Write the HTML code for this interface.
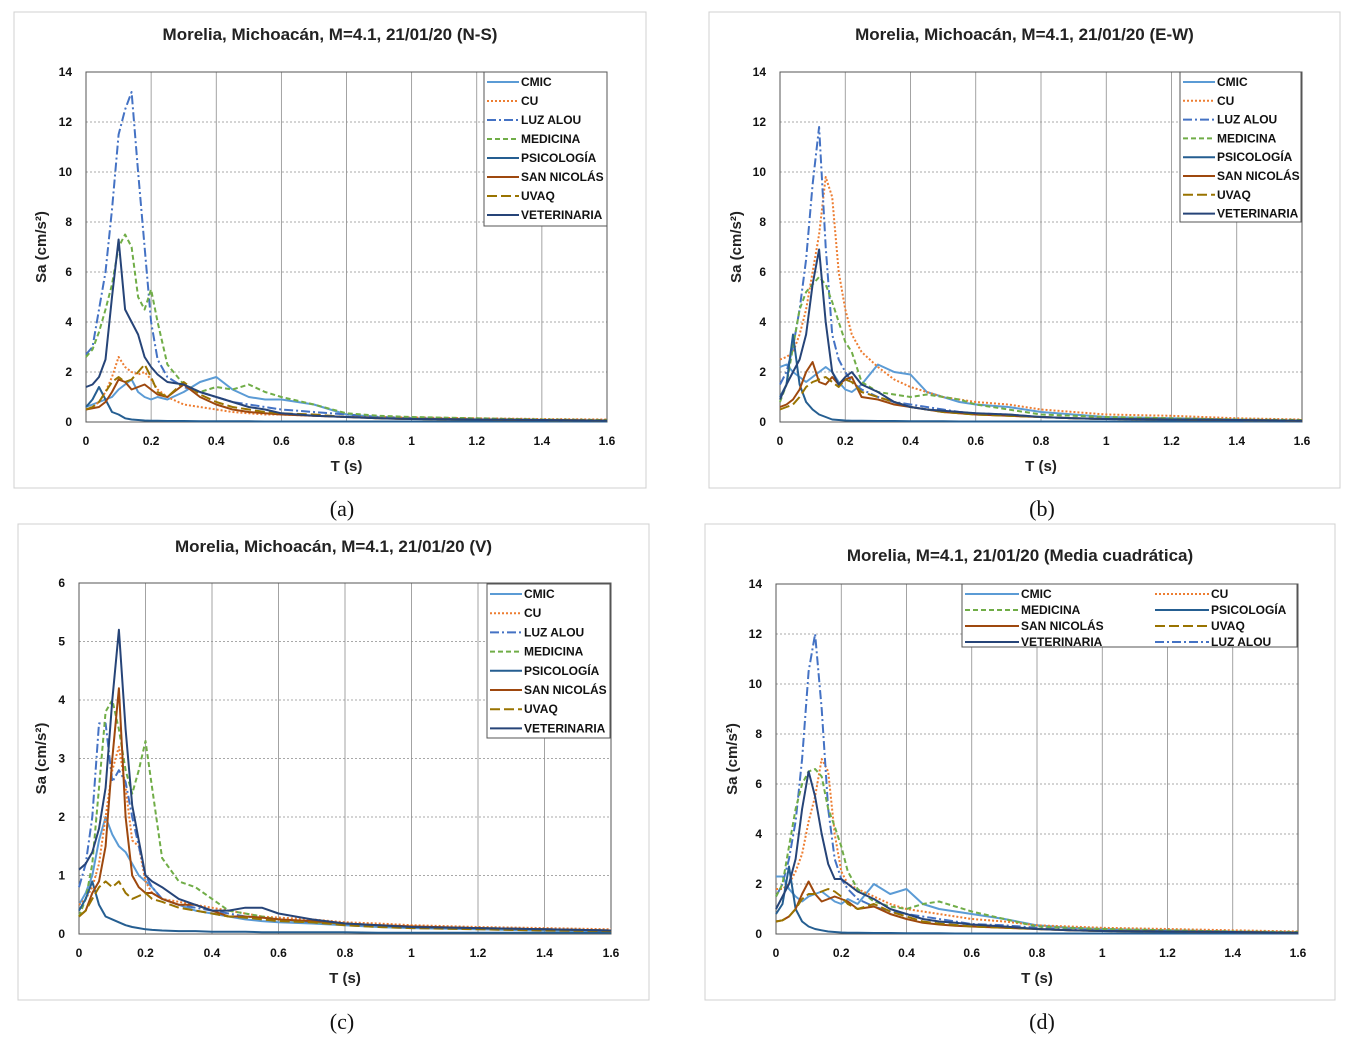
<!DOCTYPE html>
<html><head><meta charset="utf-8"><style>
body{margin:0;background:#fff;}
svg text{font-family:"Liberation Sans",sans-serif;}
</style></head><body>
<svg id="c" width="1359" height="1040" xmlns="http://www.w3.org/2000/svg"></svg>
<script>
const periods=[0,0.02,0.04,0.06,0.08,0.1,0.12,0.14,0.16,0.18,0.2,0.22,0.25,0.3,0.35,0.4,0.45,0.5,0.55,0.6,0.7,0.8,0.9,1.0,1.2,1.4,1.6];
const seriesNames=["CMIC","CU","LUZ ALOU","MEDICINA","PSICOLOGÍA","SAN NICOLÁS","UVAQ","VETERINARIA"];
const xTicks=[0,0.2,0.4,0.6,0.8,1,1.2,1.4,1.6];
const yTicks14=[0,2,4,6,8,10,12,14];
const yTicks6=[0,1,2,3,4,5,6];
// Panel a (N-S)
const nsCMIC=[0.6,0.7,0.8,0.9,1.0,1.3,1.5,1.7,1.2,1.0,0.9,1.0,0.9,1.2,1.6,1.8,1.3,1.0,0.9,0.9,0.7,0.3,0.2,0.15,0.1,0.08,0.05];
const nsCU=[0.5,0.6,0.8,1.2,1.8,2.6,2.2,2.0,1.9,2.0,1.7,1.3,1.0,0.7,0.6,0.5,0.4,0.35,0.3,0.3,0.25,0.2,0.2,0.18,0.15,0.12,0.1];
const nsLUZ=[2.7,3.0,4.5,6.0,8.5,11.5,12.5,13.2,10.0,7.0,4.0,2.5,1.8,1.4,1.2,1.0,0.8,0.7,0.6,0.5,0.4,0.3,0.2,0.15,0.1,0.08,0.05];
const nsMED=[2.6,2.9,3.6,4.5,5.5,7.0,7.5,7.0,5.0,4.5,5.3,4.0,2.3,1.5,1.2,1.4,1.3,1.5,1.2,1.0,0.7,0.35,0.25,0.2,0.15,0.1,0.08];
const nsPSI=[0.6,0.9,1.4,0.9,0.4,0.3,0.15,0.1,0.08,0.06,0.05,0.05,0.04,0.04,0.03,0.03,0.03,0.03,0.02,0.02,0.02,0.02,0.02,0.02,0.02,0.02,0.02];
const nsSAN=[0.5,0.55,0.6,0.8,1.2,1.7,1.6,1.3,1.4,1.5,1.3,1.1,1.0,1.5,1.0,0.7,0.5,0.4,0.35,0.3,0.25,0.2,0.15,0.12,0.1,0.08,0.06];
const nsUVA=[0.5,0.6,0.8,1.2,1.6,1.8,1.6,1.7,2.0,2.3,1.8,1.2,1.0,1.6,1.1,0.8,0.6,0.5,0.4,0.35,0.3,0.2,0.15,0.12,0.1,0.08,0.05];
const nsVET=[1.4,1.5,1.8,2.5,5.0,7.3,4.5,4.0,3.5,2.6,2.2,1.9,1.6,1.5,1.2,1.0,0.8,0.6,0.5,0.35,0.25,0.2,0.15,0.12,0.1,0.08,0.05];
// Panel b (E-W)
const ewCMIC=[2.2,2.3,2.0,1.8,1.6,1.8,2.0,2.2,2.0,1.6,1.3,1.2,1.5,2.3,2.0,1.9,1.2,1.0,0.8,0.7,0.6,0.4,0.3,0.2,0.15,0.1,0.05];
const ewCU=[2.5,2.6,2.8,3.5,4.5,6.0,7.5,9.8,9.0,6.0,4.5,3.5,2.8,2.2,1.7,1.4,1.2,1.0,0.9,0.8,0.7,0.5,0.4,0.3,0.25,0.15,0.1];
const ewLUZ=[1.5,2.0,3.0,4.5,6.5,9.5,11.8,7.0,3.5,2.5,2.0,1.6,1.3,1.0,0.8,0.7,0.6,0.5,0.4,0.35,0.3,0.2,0.15,0.12,0.1,0.08,0.05];
const ewMED=[0.8,1.5,3.0,4.5,5.2,5.5,5.8,5.5,4.8,4.0,3.2,2.8,1.6,1.2,1.1,1.0,1.1,1.0,0.9,0.7,0.5,0.3,0.25,0.2,0.15,0.1,0.08];
const ewPSI=[1.0,1.5,3.5,1.5,0.8,0.5,0.3,0.2,0.1,0.08,0.06,0.05,0.05,0.04,0.04,0.03,0.03,0.03,0.02,0.02,0.02,0.02,0.02,0.02,0.02,0.02,0.02];
const ewSAN=[0.6,0.7,0.9,1.3,2.0,2.4,1.6,1.5,1.8,1.5,1.7,1.8,1.0,0.9,0.7,0.6,0.5,0.4,0.35,0.3,0.25,0.2,0.15,0.12,0.1,0.08,0.05];
const ewUVA=[0.5,0.6,0.7,1.0,1.4,1.6,1.7,1.8,1.6,1.4,1.7,1.6,1.2,1.0,0.8,0.6,0.5,0.4,0.35,0.3,0.25,0.2,0.15,0.12,0.1,0.08,0.05];
const ewVET=[0.9,1.5,2.0,2.5,3.5,5.5,6.9,4.0,2.0,1.5,1.8,2.0,1.5,1.2,0.8,0.6,0.5,0.45,0.4,0.35,0.3,0.2,0.15,0.12,0.1,0.08,0.05];
// Panel c (V)
const vCMIC=[0.5,0.7,1.0,1.6,2.0,1.7,1.5,1.4,1.2,1.0,0.9,0.8,0.6,0.5,0.4,0.35,0.3,0.25,0.22,0.2,0.18,0.15,0.12,0.1,0.08,0.06,0.05];
const vCU=[0.5,0.6,0.8,1.2,2.0,2.8,3.2,2.5,1.6,1.5,0.9,0.7,0.6,0.55,0.5,0.45,0.4,0.35,0.3,0.28,0.25,0.2,0.18,0.15,0.12,0.1,0.08];
const vLUZ=[0.8,1.2,2.0,3.6,3.6,2.6,2.8,2.6,2.0,1.5,1.0,0.8,0.6,0.5,0.45,0.4,0.35,0.3,0.28,0.25,0.2,0.18,0.15,0.12,0.1,0.08,0.06];
const vMED=[0.3,0.6,1.2,2.5,3.8,4.0,3.5,2.8,2.4,2.8,3.3,2.5,1.3,0.9,0.8,0.6,0.4,0.35,0.3,0.25,0.2,0.18,0.15,0.12,0.1,0.08,0.06];
const vPSI=[0.4,0.6,0.9,0.5,0.3,0.25,0.2,0.15,0.12,0.1,0.08,0.07,0.06,0.05,0.05,0.04,0.04,0.04,0.03,0.03,0.03,0.03,0.02,0.02,0.02,0.02,0.02];
const vSAN=[0.3,0.4,0.7,0.9,1.5,3.0,4.2,2.0,1.0,0.8,0.7,0.7,0.6,0.5,0.5,0.4,0.3,0.3,0.28,0.25,0.22,0.18,0.15,0.13,0.1,0.08,0.06];
const vUVA=[0.3,0.4,0.6,0.8,0.9,0.8,0.9,0.7,0.6,0.65,0.7,0.6,0.55,0.45,0.4,0.35,0.3,0.28,0.25,0.22,0.2,0.15,0.12,0.1,0.08,0.06,0.05];
const vVET=[1.1,1.2,1.4,1.8,2.5,4.0,5.2,3.5,2.2,1.6,1.0,0.9,0.8,0.6,0.5,0.4,0.4,0.45,0.45,0.35,0.25,0.18,0.15,0.12,0.1,0.08,0.06];
// Panel d (quadratic mean)
const qCMIC=[2.3,2.3,1.8,1.5,1.3,1.5,1.6,1.7,1.5,1.3,1.2,1.4,1.2,2.0,1.6,1.8,1.2,1.0,0.9,0.8,0.6,0.35,0.25,0.2,0.15,0.1,0.06];
const qCU=[1.8,1.8,2.0,2.5,3.2,4.5,5.5,7.0,6.5,4.0,2.5,2.0,1.8,1.5,1.2,1.0,0.9,0.8,0.7,0.6,0.5,0.35,0.3,0.25,0.2,0.15,0.1];
const qLUZ=[1.5,2.0,3.0,4.5,7.0,10.5,12.0,9.0,5.0,3.0,2.2,1.8,1.4,1.1,0.9,0.8,0.7,0.6,0.5,0.4,0.35,0.25,0.18,0.14,0.1,0.08,0.05];
const qMED=[1.5,2.0,3.5,5.0,6.0,6.5,6.6,6.3,5.0,4.3,3.5,2.5,1.8,1.3,1.1,1.0,1.2,1.3,1.1,0.9,0.6,0.3,0.25,0.2,0.15,0.1,0.08];
const qPSI=[0.8,1.2,2.7,1.0,0.5,0.3,0.2,0.15,0.1,0.08,0.06,0.05,0.05,0.04,0.04,0.03,0.03,0.03,0.02,0.02,0.02,0.02,0.02,0.02,0.02,0.02,0.02];
const qSAN=[0.5,0.55,0.7,1.0,1.6,2.1,1.6,1.3,1.4,1.5,1.4,1.3,1.0,1.1,0.8,0.6,0.45,0.38,0.33,0.3,0.25,0.2,0.15,0.12,0.1,0.08,0.05];
const qUVA=[0.5,0.55,0.7,1.0,1.4,1.6,1.6,1.7,1.8,1.7,1.5,1.2,1.0,1.2,0.9,0.7,0.5,0.42,0.36,0.3,0.25,0.2,0.15,0.12,0.1,0.08,0.05];
const qVET=[1.0,1.5,2.0,3.0,5.0,6.5,5.5,4.0,2.8,2.2,2.2,2.0,1.7,1.4,1.0,0.8,0.6,0.5,0.45,0.38,0.3,0.2,0.15,0.12,0.1,0.08,0.05];

const styles=[
 {c:"#5B9BD5",d:""},{c:"#ED7D31",d:"2,2"},{c:"#4472C4",d:"9,3,2,3"},{c:"#70AD47",d:"5,3"},
 {c:"#255E91",d:""},{c:"#9E480E",d:""},{c:"#997300",d:"10,4"},{c:"#264478",d:""}];
const svg=document.getElementById('c');
const NS="http://www.w3.org/2000/svg";
function mk(tag,attrs,parent,text){const e=document.createElementNS(NS,tag);for(const k in attrs)e.setAttribute(k,attrs[k]);if(text!==undefined)e.textContent=text;(parent||svg).appendChild(e);return e;}

function panel(p){
 const g=mk('g',{});
 
 
 const fr=mk('rect',{x:p.box[0],y:p.box[1],width:p.box[2],height:p.box[3],fill:'#fff',stroke:'#d0d0d0','stroke-width':1},g);
 
 const xs=v=>p.x0+(v/1.6)*(p.x1-p.x0);
 const ys=v=>p.y0-(v/p.ymax)*(p.y0-p.y1);
 const t=mk('text',{x:(p.box[0]+p.box[0]+p.box[2])/2,y:p.ty,'text-anchor':'middle','font-size':17,'font-weight':'bold',fill:'#222'},g,p.title);
 
 p.yt.forEach(v=>{
  if(v>0){const l=mk('line',{x1:p.x0,x2:p.x1,y1:ys(v),y2:ys(v),stroke:'#8c8c8c','stroke-width':0.8,'stroke-dasharray':'2,2'},g);}
  const tx=mk('text',{x:p.x0-14,y:ys(v)+4,'text-anchor':'end','font-size':12,'font-weight':'bold',fill:'#111'},g,String(v));
  
 });
 xTicks.forEach(v=>{
  if(v>0){const l=mk('line',{x1:xs(v),x2:xs(v),y1:p.y0,y2:p.y1,stroke:'#8c8c8c','stroke-width':0.8},g);}
  const tx=mk('text',{x:xs(v),y:p.y0+23,'text-anchor':'middle','font-size':12,'font-weight':'bold',fill:'#111'},g,String(v));
  
 });
 const ax=mk('rect',{x:p.x0,y:p.y1,width:p.x1-p.x0,height:p.y0-p.y1,fill:'none',stroke:'#555','stroke-width':1},g);
 
 const xt=mk('text',{x:(p.x0+p.x1)/2,y:p.y0+49,'text-anchor':'middle','font-size':15,'font-weight':'bold',fill:'#222'},g,'T (s)');
 
 const cy=(p.y0+p.y1)/2;
 const yt=mk('text',{x:p.yx,y:cy,'text-anchor':'middle','font-size':15,'font-weight':'bold',fill:'#222',transform:`rotate(-90 ${p.yx} ${cy})`},g,'Sa (cm/s²)');
 
 p.series.forEach((arr,i)=>{
  const pts=periods.map((T,j)=>xs(T).toFixed(1)+','+ys(arr[j]).toFixed(1)).join(' ');
  const pl=mk('polyline',{points:pts,fill:'none',stroke:styles[i].c,'stroke-width':2,'stroke-dasharray':styles[i].d,'stroke-linejoin':'round'},g);
  
  
 });
 const L=p.leg;
 const lb=mk('rect',{x:L.x,y:L.y,width:L.w,height:L.h,fill:'#fff',stroke:'#555','stroke-width':1},g);
 
 L.order.forEach((si,k)=>{
  const col=L.cols?k%2:0,row=L.cols?Math.floor(k/2):k;
  const lx=L.x+3+col*(L.colw||0),ly=L.y+10+row*L.dy;
  const ln=mk('line',{x1:lx,x2:lx+L.sw,y1:ly,y2:ly,stroke:styles[si].c,'stroke-width':2,'stroke-dasharray':styles[si].d},g);
  
  const tx=mk('text',{x:lx+L.sw+2,y:ly+4,'font-size':12,'font-weight':'bold',fill:'#111'},g,seriesNames[si]);
  
 });
 const cap=mk('text',{x:p.cap[0],y:p.cap[1],'text-anchor':'middle','font-size':22,style:'font-family:"Liberation Serif",serif',fill:'#111'},svg,p.capText);
 
}
const ord=[0,1,2,3,4,5,6,7];
panel({name:'panel-a-ns',box:[14,12,632,476],title:'Morelia, Michoacán, M=4.1, 21/01/20 (N-S)',ty:40,x0:86,x1:607,y0:422,y1:72,ymax:14,yt:yTicks14,yx:46,
 series:[nsCMIC,nsCU,nsLUZ,nsMED,nsPSI,nsSAN,nsUVA,nsVET],leg:{x:484,y:72,w:123,h:154,dy:19,sw:32,order:ord},cap:[342,516],capText:'(a)'});
panel({name:'panel-b-ew',box:[709,12,631,476],title:'Morelia, Michoacán, M=4.1, 21/01/20 (E-W)',ty:40,x0:780,x1:1302,y0:422,y1:72,ymax:14,yt:yTicks14,yx:741,
 series:[ewCMIC,ewCU,ewLUZ,ewMED,ewPSI,ewSAN,ewUVA,ewVET],leg:{x:1180,y:72,w:121,h:150,dy:18.8,sw:32,order:ord},cap:[1042,516],capText:'(b)'});
panel({name:'panel-c-v',box:[18,524,631,476],title:'Morelia, Michoacán, M=4.1, 21/01/20 (V)',ty:552,x0:79,x1:611,y0:934,y1:583,ymax:6,yt:yTicks6,yx:46,
 series:[vCMIC,vCU,vLUZ,vMED,vPSI,vSAN,vUVA,vVET],leg:{x:487,y:584,w:123,h:154,dy:19.2,sw:32,order:ord},cap:[342,1029],capText:'(c)'});
panel({name:'panel-d-mean',box:[705,524,630,476],title:'Morelia, M=4.1, 21/01/20 (Media cuadrática)',ty:561,x0:776,x1:1298,y0:934,y1:584,ymax:14,yt:yTicks14,yx:737,
 series:[qCMIC,qCU,qLUZ,qMED,qPSI,qSAN,qUVA,qVET],leg:{x:962,y:584,w:335,h:63,dy:16,sw:54,cols:2,colw:190,order:[0,1,3,4,5,6,7,2]},cap:[1042,1029],capText:'(d)'});
</script>
</body></html>
